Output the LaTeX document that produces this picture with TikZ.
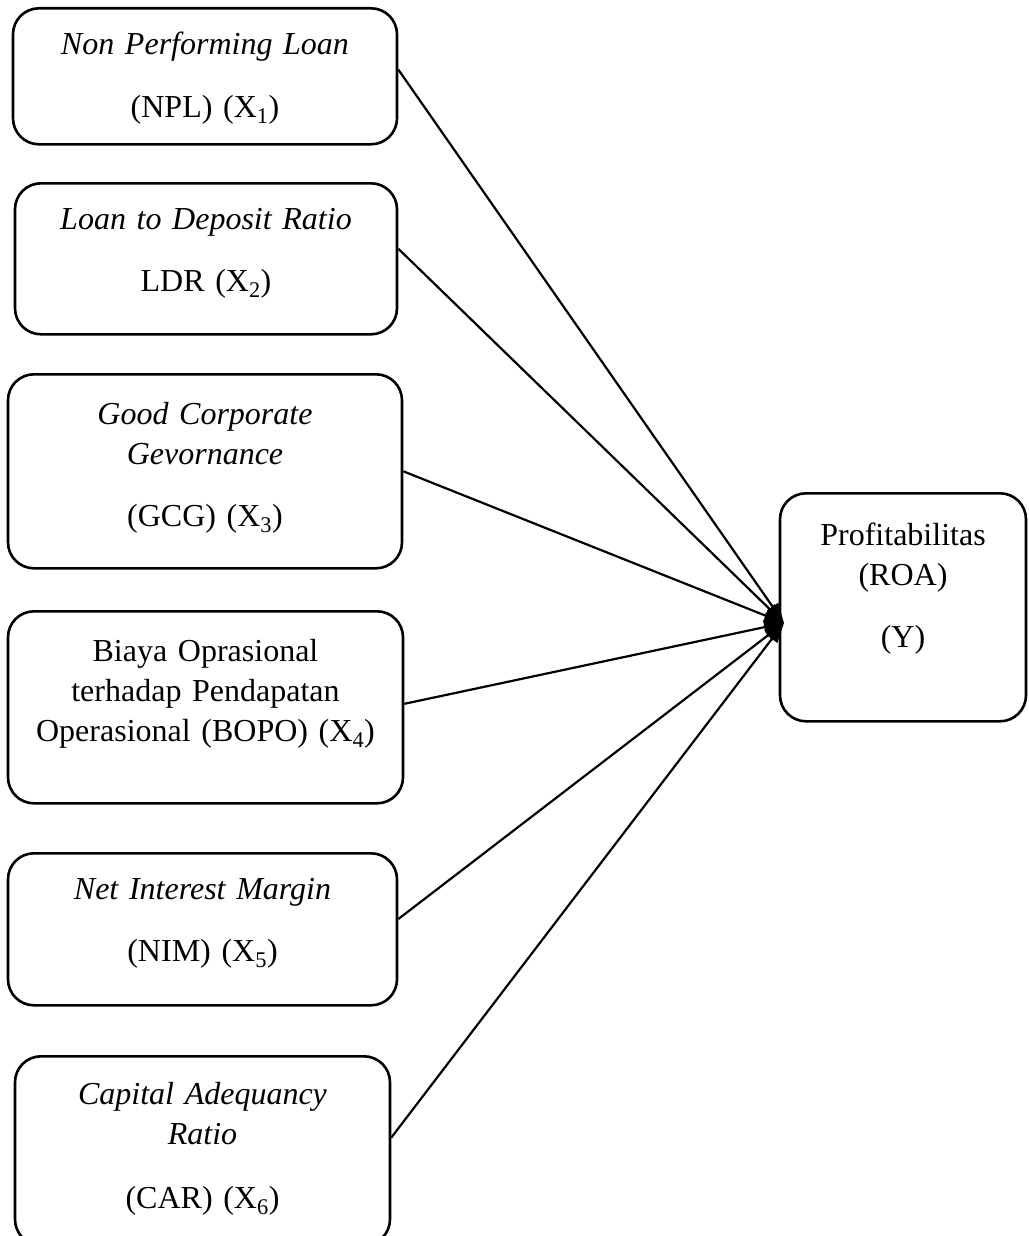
\documentclass[tikz,border=0pt]{standalone}
\usepackage{fontspec}
\setmainfont{Liberation Serif}
\usetikzlibrary{arrows.meta}

\tikzset{
varbox/.style={
  draw,
  line width=2.6pt,
  rounded corners=26pt,
  anchor=north,
  align=center,
  inner sep=0pt,
  font=\fontsize{32}{40}\selectfont,
  text height=46pt,
},
effect/.style={
  line width=2.2pt,
  -{Triangle[length=20pt,width=13pt]},
},
}

\begin{document}
\begin{tikzpicture}[x=1pt,y=-1pt]
\useasboundingbox (0,0) rectangle (1028,1236);
\clip (0,0) rectangle (1028,1236);
                  % independent variables
\node[varbox, text width=384pt, text depth=90pt] (npl) at (205,7)
  {\textit{Non Performing Loan}\\[23pt](NPL) (X\textsubscript{1})};
\node[varbox, text width=382pt, text depth=105pt] (ldr) at (206,182)
  {\textit{Loan to Deposit Ratio}\\[22pt]LDR (X\textsubscript{2})};
\node[varbox, text width=394pt, text height=50pt, text depth=144pt] (gcg) at (205,373)
  {\textit{Good Corporate}\\\textit{Gevornance}\\[22pt](GCG) (X\textsubscript{3})};
\node[varbox, text width=395pt, text height=50pt, text depth=142pt] (bopo) at (205.5,610)
  {Biaya Oprasional\\terhadap Pendapatan\\Operasional (BOPO) (X\textsubscript{4})};
\node[varbox, text width=389pt, text depth=106pt] (nim) at (202.5,852)
  {\textit{Net Interest Margin}\\[22pt](NIM) (X\textsubscript{5})};
\node[varbox, text width=375pt, text height=48pt, text depth=141pt] (car) at (202.5,1055)
  {\textit{Capital Adequancy}\\\textit{Ratio}\\[24pt](CAR) (X\textsubscript{6})};
                  % dependent variable
\node[varbox, text width=246pt, text height=52pt, text depth=176pt] (roa) at (903,492)
  {Profitabilitas\\(ROA)\\[22pt](Y)};
\coordinate (tip) at (784,623);
                  % effects
\foreach \var/\ang in {npl/2, ldr/3, gcg/0, bopo/1, nim/3, car/4}
  \draw[effect] (\var.\ang) -- (tip);
\end{tikzpicture}
\end{document}
